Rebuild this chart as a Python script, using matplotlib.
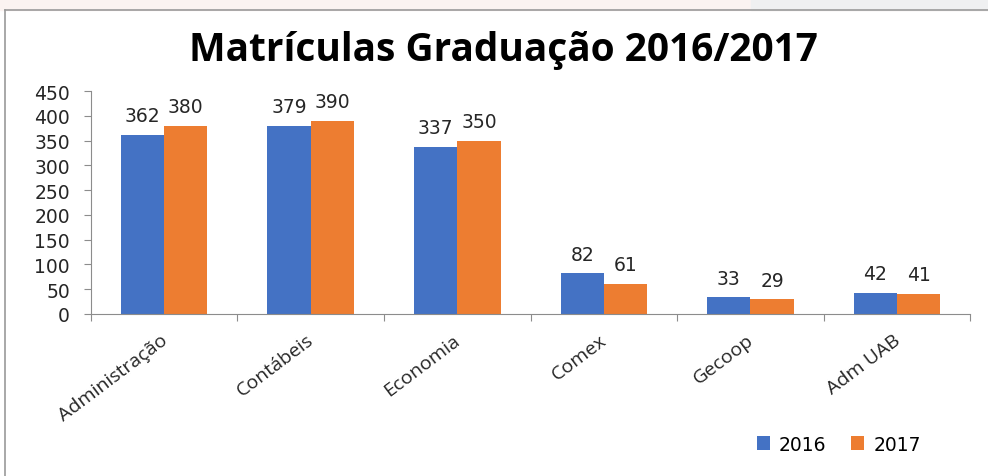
import numpy as np
import matplotlib.pyplot as plt
from matplotlib.lines import Line2D
from matplotlib.patches import Rectangle

# Data
cursos = ['Administração', 'Contábeis', 'Economia', 'Comex', 'Gecoop', 'Adm UAB']
mat_2016 = [362, 379, 337, 82, 33, 42]
mat_2017 = [380, 390, 350, 61, 29, 41]
anos = ['2016', '2017']

azul = '#4472C4'
laranja = '#ED7D31'
cinza = '#8C8C8C'
texto = '#262626'

fig = plt.figure(figsize=(9.88, 4.77), dpi=100)
ax = fig.add_axes([0.092, 0.340, 0.890, 0.467])

x = np.arange(len(cursos))
w = 0.295
b1 = ax.bar(x - w / 2, mat_2016, w, color=azul, label=anos[0])
b2 = ax.bar(x + w / 2, mat_2017, w, color=laranja, label=anos[1])

for bars in (b1, b2):
    for r in bars:
        ax.annotate(str(int(r.get_height())), (r.get_x() + r.get_width() / 2, r.get_height()),
                    xytext=(0, 7), textcoords='offset points',
                    ha='center', va='bottom', fontsize=13.5, color=texto)

ax.set_xlim(-0.5, len(cursos) - 0.5)
ax.set_ylim(0, 450)
ax.set_yticks(np.arange(0, 451, 50))
ax.tick_params(axis='y', labelsize=13.5, color=cinza, length=5, pad=10, labelcolor=texto)

# category labels between boundary ticks
ax.set_xticks(np.arange(-0.5, len(cursos), 1))
ax.set_xticklabels([])
ax.tick_params(axis='x', color=cinza, length=5)
ax.set_xticks(x - 0.03, minor=True)
ax.set_xticklabels(cursos, minor=True, rotation=37, ha='right', rotation_mode='anchor',
                   fontsize=14, family='Open Sans', color=texto)
ax.tick_params(axis='x', which='minor', length=0, pad=12)

for s in ['top', 'right']:
    ax.spines[s].set_visible(False)
for s in ['left', 'bottom']:
    ax.spines[s].set_color(cinza)

fig.text(0.510, 0.895, 'Matrículas Graduação 2016/2017', ha='center', va='center',
         fontsize=28, fontweight='bold', family='Open Sans', color='black')

ax.legend(loc='center', bbox_to_anchor=(0.849, 0.067), bbox_transform=fig.transFigure,
          ncol=2, frameon=False, handlelength=0.7, handleheight=0.7,
          handletextpad=0.5, columnspacing=1.3, prop={'size': 13.5})

# frame and background strip
fig.add_artist(Rectangle((0, 1 - 11 / 477), 1, 11 / 477, transform=fig.transFigure,
                         color='#FBF3F1', zorder=0))
fig.add_artist(Rectangle((0.76, 1 - 11 / 477), 0.24, 11 / 477, transform=fig.transFigure,
                         color='#EFF0F1', zorder=0))
fig.add_artist(Line2D([5 / 988, 5 / 988], [0, 1 - 11 / 477], transform=fig.transFigure,
                      color='#9A9A9A', lw=1.2))
fig.add_artist(Line2D([5 / 988, 1], [1 - 11 / 477, 1 - 11 / 477], transform=fig.transFigure,
                      color='#9A9A9A', lw=1.2))

fig.savefig('out.png', dpi=100)
